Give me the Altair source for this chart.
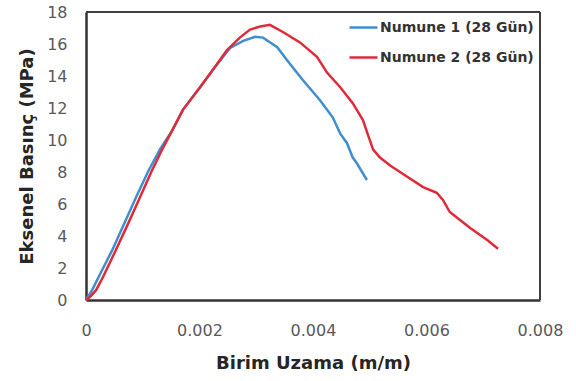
import altair as alt
import pandas as pd

# Specimen 1 (28 days): axial strain (m/m) and axial stress (MPa)
strain_1 = [0.0, 0.00011, 0.00026, 0.00046, 0.00067, 0.00088, 0.00109, 0.00130,
            0.00152, 0.00171, 0.00201, 0.00224, 0.00254, 0.00277, 0.00298, 0.00312,
            0.00337, 0.00354, 0.00382, 0.00412, 0.00435, 0.00448, 0.00460, 0.00470,
            0.00477, 0.00495]
stress_1 = [0.0, 0.63, 1.7, 3.1, 4.75, 6.4, 8.0, 9.4,
            10.6, 11.9, 13.3, 14.4, 15.75, 16.2, 16.45, 16.4,
            15.8, 15.0, 13.75, 12.5, 11.4, 10.4, 9.8, 8.9,
            8.56, 7.5]

# Specimen 2 (28 days)
strain_2 = [0.0, 0.00007, 0.00018, 0.00030, 0.00051, 0.00072, 0.00093, 0.00115,
            0.00134, 0.00152, 0.00171, 0.00201, 0.00224, 0.00248, 0.00271, 0.00289,
            0.00307, 0.00324, 0.00347, 0.00377, 0.00407, 0.00425, 0.00448, 0.00470,
            0.00488, 0.00497, 0.00506, 0.00518, 0.00536, 0.00566, 0.00594, 0.00618,
            0.00629, 0.00641, 0.00659, 0.00677, 0.00707, 0.00726]
stress_2 = [0.0, 0.19, 0.63, 1.44, 3.0, 4.6, 6.25, 8.0,
            9.4, 10.6, 11.9, 13.3, 14.4, 15.6, 16.4, 16.9,
            17.1, 17.2, 16.75, 16.1, 15.2, 14.2, 13.3, 12.3,
            11.25, 10.3, 9.4, 8.9, 8.4, 7.7, 7.06, 6.7,
            6.25, 5.5, 5.0, 4.5, 3.75, 3.2]

series_names = ["Numune 1 (28 Gün)", "Numune 2 (28 Gün)"]
series_colors = ["#3f8fce", "#e02a3a"]

x_ticks = [0, 0.002, 0.004, 0.006, 0.008]
y_ticks = [0, 2, 4, 6, 8, 10, 12, 14, 16, 18]

PLOT_W, PLOT_H = 454, 288

rows = []
for i, (sx, sy) in enumerate(zip(strain_1, stress_1)):
    rows.append({"seri": series_names[0], "uzama": sx, "basinc": sy, "sira": i})
for i, (sx, sy) in enumerate(zip(strain_2, stress_2)):
    rows.append({"seri": series_names[1], "uzama": sx, "basinc": sy, "sira": i})
df = pd.DataFrame(rows)

FONT = "DejaVu Sans"

x_scale = alt.Scale(domain=[0, 0.008], nice=False, zero=True)
y_scale = alt.Scale(domain=[0, 18], nice=False)

x_axis = alt.Axis(
    title="Birim Uzama (m/m)",
    values=x_ticks,
    labelExpr="datum.value == 0 ? '0' : format(datum.value, '.3f')",
    labelFlush=False,
    grid=False,
    ticks=False,
    labelPadding=22,
    titlePadding=16,
)
y_axis = alt.Axis(
    title="Eksenel Basınç (MPa)",
    values=y_ticks,
    labelFlush=False,
    grid=False,
    ticks=False,
    labelPadding=19,
    titlePadding=10,
)

curves = alt.Chart(df).mark_line(strokeWidth=2.5).encode(
    x=alt.X("uzama:Q", scale=x_scale, axis=x_axis),
    y=alt.Y("basinc:Q", scale=y_scale, axis=y_axis),
    color=alt.Color(
        "seri:N",
        scale=alt.Scale(domain=series_names, range=series_colors),
        legend=alt.Legend(
            title=None,
            orient="none",
            legendX=262,
            legendY=0,
            symbolType="stroke",
            symbolSize=784,
            symbolStrokeWidth=2.5,
            labelOffset=1,
            labelFont=FONT,
            labelFontSize=14,
            labelFontWeight="bold",
            labelColor="#333333",
            rowPadding=7,
            padding=0,
        ),
    ),
    order="sira:Q",
)

# top and right edges of the plot-area frame
frame_edges = pd.DataFrame({
    "x0": [0.0, 0.008],
    "x1": [0.008, 0.008],
    "y0": [18.0, 0.0],
    "y1": [18.0, 18.0],
})
frame = alt.Chart(frame_edges).mark_rule(color="#404040", strokeWidth=2).encode(
    x=alt.X("x0:Q", scale=x_scale, axis=x_axis),
    x2="x1:Q",
    y=alt.Y("y0:Q", scale=y_scale, axis=y_axis),
    y2="y1:Q",
)

chart = alt.layer(curves, frame).properties(
    width=PLOT_W,
    height=PLOT_H,
    autosize=alt.AutoSizeParams(type="none"),
    padding={"left": 86, "top": 12, "right": 36, "bottom": 81},
    background="white",
).configure_view(
    stroke=None,
).configure_axis(
    domainColor="#333333",
    domainWidth=2.5,
    labelFont=FONT,
    labelFontSize=16,
    labelColor="#595959",
    titleFont=FONT,
    titleFontSize=18,
    titleFontWeight="bold",
    titleColor="#262626",
)

chart.save("out.html", embed_options={"renderer": "svg", "actions": False})
